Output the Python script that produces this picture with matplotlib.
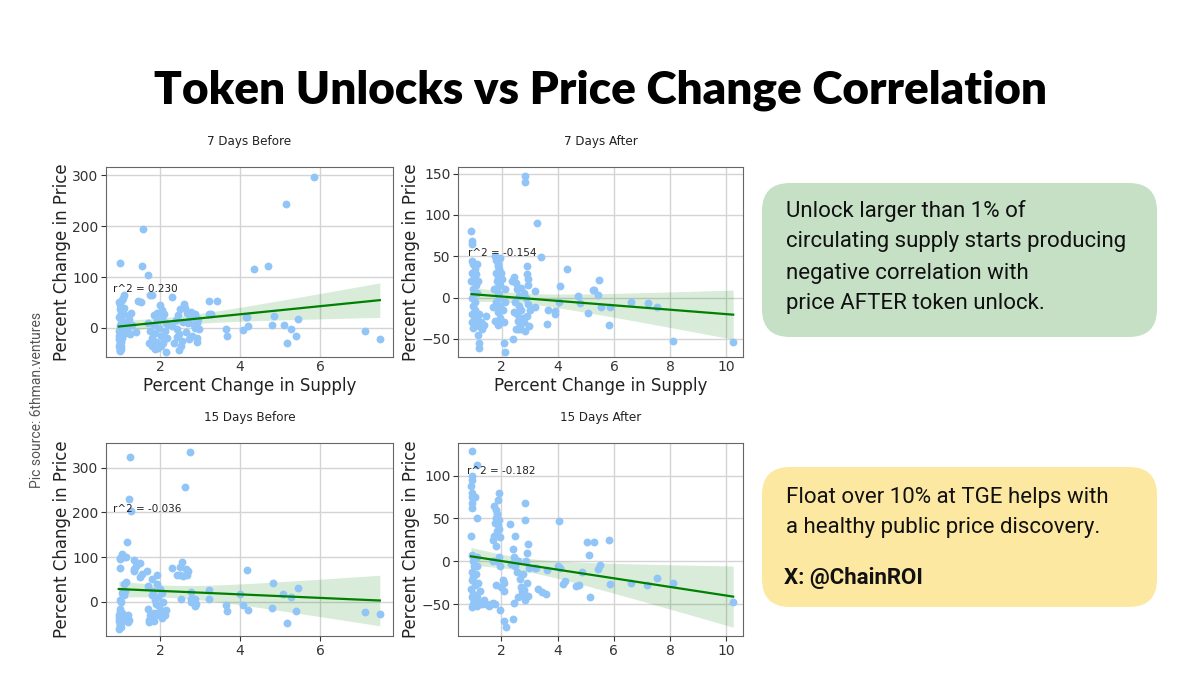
import numpy as np
import matplotlib
matplotlib.use('Agg')
import matplotlib.pyplot as plt
from matplotlib.patches import FancyBboxPatch

# ---- data ----
# 7 days before
b7_supply = [5.86, 5.14, 1.57, 0.99, 1.53, 1.69, 4.35, 4.71, 1.75, 1.80, 2.29, 1.08, 3.21, 3.41,
             7.14, 7.50, 5.46, 4.84, 5.09, 5.28, 5.41, 5.18, 4.79, 4.14, 4.17, 4.19, 4.07, 3.65,
             3.67, 2.93, 2.91, 2.14,
             0.97, 1.00, 1.03, 1.06, 0.98, 1.02, 0.97, 1.01, 1.04, 0.98, 1.00, 0.96, 1.02, 0.98,
             1.00, 0.97, 1.01, 0.99, 0.97, 1.00, 0.98, 1.03, 1.05, 1.10, 1.12, 1.08, 1.10, 1.15,
             1.18, 1.14, 1.26, 1.43, 1.51, 1.38, 1.22, 1.25, 1.30,
             0.99, 1.01, 0.98, 1.02, 1.00, 0.97, 1.03, 0.99,
             1.70, 1.75, 1.78, 1.80, 1.83, 1.85, 1.88, 1.90, 1.92, 1.95, 1.97, 2.00, 2.02, 2.05,
             2.08, 2.10, 2.12, 2.15, 2.18, 2.20, 1.72, 1.86, 2.03, 1.93, 2.05,
             2.59, 2.50, 2.67, 2.75, 2.87, 2.95, 2.92, 2.70, 2.57, 2.42, 2.48, 2.40, 2.88, 2.96,
             2.93, 2.55, 2.35, 2.65, 2.80, 2.45, 2.62, 2.72, 2.85, 2.30, 2.78, 2.43, 2.52, 2.46,
             3.22, 3.28]
b7_price = [297, 244, 195, 128, 122, 104, 116, 121, 65, 65, 61, 64, 52, 52,
            -5, -21, 17, 24, 6, -3, -16, -29, 5, 22, 22, 4, -4, -2,
            -16, 14, -27, -47,
            50, 45, 55, 58, 38, 30, 22, 15, 10, 5, 0, -5, -8, -12,
            -18, -22, -27, -32, -36, -40, -44, -3, 3, 8, -2, 40, 28, 12,
            2, -10, 30, 52, 50, -7, 18, -12, 5,
            -25, -35, -40, -42, -30, -15, -20, -45,
            10, -5, -20, -35, 5, 25, -10, -28, 15, -40, 0, 45, -15, 20,
            -30, 27, -5, 10, -20, 5, -30, -42, -36, 30, 35,
            47, 37, 30, 20, 27, 18, 10, 10, 11, -2, -12, 15, 0, -2,
            -20, -25, -30, -8, -15, 25, 40, -22, 5, 3, 32, -18, -35, -43,
            28, 28]

# 7 days after
a7_supply = [2.83, 2.83, 3.24, 3.39, 0.92, 0.93, 0.94, 4.33, 5.46, 4.06, 4.70, 4.80, 4.05, 3.90,
             3.88, 5.06, 5.25, 5.30, 5.44, 5.55, 5.87, 5.81, 6.60, 7.19, 7.54, 8.10, 10.24, 3.64,
             3.60, 3.19, 3.17, 2.90, 2.40, 2.10, 2.07, 1.18, 1.19, 1.15, 2.52, 2.58, 2.65,
             0.93, 0.98, 1.05, 0.95, 1.02, 0.92, 1.08, 0.96, 1.00, 0.94, 1.04, 0.97, 1.06, 0.93,
             1.01, 1.10, 0.95, 1.03, 0.98, 1.12, 1.15, 1.20, 1.25, 1.30, 1.35, 1.45, 1.18, 1.08,
             1.12, 1.15, 1.10,
             1.75, 1.80, 1.85, 1.90, 1.78, 1.88, 1.82, 1.95, 1.72, 1.85, 1.90, 1.80, 1.95, 1.70,
             1.88, 1.92, 1.85, 1.98, 2.05, 2.10, 2.08, 1.93, 1.98, 1.83, 1.77, 2.12, 2.00, 1.87,
             2.35, 2.45, 2.50, 2.55, 2.60, 2.48, 2.62, 2.70, 2.55, 2.75, 2.80, 2.65, 2.90, 2.95,
             2.85, 2.92, 2.88, 2.95, 2.78, 2.70, 2.42, 2.58, 3.00, 2.98, 2.82]
a7_price = [147, 140, 90, 49, 81, 68, 65, 34, 21, 14, 2, -7, -6, -16,
            -20, -19, 9, 9, 3, -11, -12, -33, -6, -7, -11, -53, -54, -15,
            -32, -11, 8, 38, -50, -66, -55, -55, -61, -45, -38, -38, -38,
            44, 40, 35, 30, 25, 20, 15, 10, 5, 0, -5, -10, -15, -20,
            -22, -25, -30, -33, -37, -28, -32, -35, -30, -38, -33, -22, -20, 28,
            40, 20, 5,
            50, 45, 40, 35, 30, 25, 20, 15, 10, 5, 0, -5, -10, -12,
            -18, -25, -33, -30, -15, -5, -30, 48, 30, 12, -28, 10, 22, 38,
            20, 25, 18, 10, 2, -5, -10, -15, -20, -25, -30, -35, -22, -8,
            0, 15, 28, 22, 5, 12, -18, -28, -15, -35, -40]

# 15 days before
b15_supply = [1.23, 2.75, 2.63, 1.21, 1.26, 1.16, 1.05, 1.00, 1.03, 1.08, 1.13, 0.98, 1.33, 1.48,
              1.40, 1.35, 1.33, 1.00, 1.55, 1.50, 1.66, 1.78, 1.92, 2.29, 2.54, 2.50, 2.65, 2.70,
              2.42, 2.50, 2.58, 2.66, 4.18, 4.83, 5.46, 5.08, 5.27, 4.00, 4.07, 4.19, 4.79, 5.18,
              5.41, 7.14, 7.50, 3.65, 3.66, 3.21, 3.21, 2.87, 2.90, 2.88, 2.77, 2.78, 2.76, 2.53,
              0.98, 1.00, 0.97, 1.02, 0.99, 0.96, 1.01, 0.98, 1.00, 0.97, 1.03, 1.05, 1.20, 1.22,
              1.18, 1.02, 0.98, 1.10, 1.12, 1.08, 1.05, 1.15,
              0.98, 1.00, 1.02, 0.97, 1.72, 1.78, 1.83, 1.90, 2.00, 2.05, 1.95, 2.12,
              1.70, 1.75, 1.72, 1.80, 1.85, 1.90, 1.95, 2.00, 2.05, 1.98, 2.10, 2.15, 1.88, 2.03,
              1.93, 2.07, 1.78, 1.68, 1.82]
b15_price = [323, 336, 257, 230, 203, 134, 108, 98, 103, 101, 100, 95, 94, 88,
             80, 73, 70, 75, 63, 55, 69, 52, 60, 75, 90, 77, 73, 70,
             60, 60, 58, 60, 71, 43, 31, 17, 12, 17, -7, -19, -13, -48,
             -21, -23, -27, -7, -20, 27, 7, 7, -5, -10, 22, 6, 0, 7,
             -15, -22, -28, -33, -38, -43, -48, -52, -56, -60, -40, -25, -30, -40,
             -45, 0, 5, 15, 25, 40, 20, 45,
             -45, -50, -55, -35, -45, -38, -42, -30, -20, -35, -25, -28,
             -15, -30, -40, -35, -25, -5, 10, 30, 20, -10, -20, -18, 5, -30,
             40, 0, 15, 35, 25]

# 15 days after
a15_supply = [0.94, 1.12, 0.95, 0.96, 0.93, 0.97, 0.94, 0.96, 0.95, 1.05, 1.12, 0.92, 1.97, 2.10,
              2.15, 2.40, 2.30, 2.50, 2.83, 2.83, 4.06, 5.05, 5.30, 5.82, 5.10, 5.50, 5.45, 5.88,
              6.60, 7.19, 7.54, 8.10, 10.24, 5.14, 4.65, 4.75, 4.87, 4.20, 4.25, 4.10, 4.03, 3.62,
              3.60, 3.30, 3.45, 3.20, 3.25,
              0.95, 0.98, 1.02, 0.94, 1.00, 0.97, 1.05, 0.93, 1.01, 0.96, 1.03, 0.99, 0.95, 1.08,
              1.12, 1.15, 1.10, 1.13, 1.18, 1.22, 1.30, 1.38, 1.45, 1.55, 1.62, 1.70, 1.78, 1.25,
              1.15,
              1.75, 1.80, 1.85, 1.90, 1.82, 1.78, 1.88, 1.92, 1.85, 1.75, 1.95, 1.70, 1.80, 1.90,
              1.85, 1.95, 2.05, 2.10, 2.00, 2.08, 1.80, 1.72, 1.93, 1.87,
              2.40, 2.45, 2.50, 2.55, 2.60, 2.65, 2.70, 2.75, 2.80, 2.85, 2.90, 2.95, 2.92, 2.88,
              2.78, 2.58, 2.45, 2.35, 2.98, 2.72, 2.82, 2.95]
a15_price = [129, 112, 100, 95, 88, 80, 75, 68, 62, 75, 50, 30, -57, -70,
             -77, -67, 43, 30, 68, 48, 47, 23, 23, 25, 7, -4, -9, -26,
             -25, -28, -19, -25, -47, -42, -29, -27, -12, -26, -23, -8, -5, -10,
             -38, -32, -36, -8, -8,
             8, 0, -5, -12, -18, -22, -28, -32, -38, -42, -46, -50, -53, -48,
             -52, -42, -15, -5, -25, -48, -50, -45, -50, -52, -50, -49, -50, -35,
             5,
             65, 60, 55, 80, 50, 45, 42, 38, 35, 30, 28, 25, 18, 5,
             0, -5, -22, -25, -30, -35, -28, 0, 48, 72,
             15, 5, -5, -12, 0, -20, -30, -35, -40, -45, -25, 20, 10, 0,
             -15, -42, -48, -3, -8, -38, -33, -40]

titles = ['7 Days Before', '7 Days After', '15 Days Before', '15 Days After']
r2_labels = ['r^2 = 0.230', 'r^2 = -0.154', 'r^2 = -0.036', 'r^2 = -0.182']
supply_sets = [b7_supply, a7_supply, b15_supply, a15_supply]
price_sets = [b7_price, a7_price, b15_price, a15_price]


def fit_band(x, y, grid):
    # linear fit and 95% band of the mean
    x = np.asarray(x, float)
    y = np.asarray(y, float)
    n = len(x)
    b, a = np.polyfit(x, y, 1)
    yhat = a + b * grid
    resid = y - (a + b * x)
    s = np.sqrt(np.sum(resid ** 2) / (n - 2))
    se = s * np.sqrt(1 / n + (grid - x.mean()) ** 2 / np.sum((x - x.mean()) ** 2))
    return yhat, yhat - 1.97 * se, yhat + 1.97 * se


fig = plt.figure(figsize=(12, 6.75), dpi=100)
W, H = 1200, 675

# axes boxes in pixels: left, top, right, bottom
boxes = [(106, 167, 393, 357), (458, 167, 743, 357),
         (106, 443, 393, 636), (458, 443, 743, 636)]
xlims = [(0.64, 7.83), (0.44, 10.59), (0.64, 7.83), (0.46, 10.59)]
ylims = [(-57, 316), (-72, 158), (-76, 355), (-87, 138)]
yticks = [[0, 100, 200, 300], [-50, 0, 50, 100, 150], [0, 100, 200, 300], [-50, 0, 50, 100]]
r2_pos = [(0.82, 77), (0.79, 54), (0.82, 208), (0.79, 105)]

point_color = '#92c5f7'

for i in range(4):
    l, t, r, b = boxes[i]
    ax = fig.add_axes([l / W, (H - b) / H, (r - l) / W, (b - t) / H])
    x = np.array(supply_sets[i])
    y = np.array(price_sets[i])
    ax.scatter(x, y, s=32, color=point_color, zorder=2, linewidths=0)
    grid = np.linspace(x.min(), x.max(), 100)
    yhat, lo, hi = fit_band(x, y, grid)
    ax.fill_between(grid, lo, hi, color='green', alpha=0.15, linewidth=0, zorder=1)
    ax.plot(grid, yhat, color='green', lw=1.6, zorder=3)
    ax.text(r2_pos[i][0], r2_pos[i][1], r2_labels[i], fontsize=7.5, va='center', ha='left',
            color='#222222', zorder=4)
    ax.set_xlim(xlims[i])
    ax.set_ylim(ylims[i])
    ax.set_yticks(yticks[i])
    ax.grid(True, color='#d4d4d4', lw=1.0, zorder=0)
    ax.set_axisbelow(True)
    for sp in ax.spines.values():
        sp.set_color('#666666')
    ax.tick_params(labelsize=10, colors='#333333', length=3.5, pad=2)
    ax.tick_params(axis='x', length=0 if i < 2 else 3.5)
    ax.set_title(titles[i], fontsize=9.5, color='#222222', pad=16,
                 fontstretch='condensed')
    ax.set_ylabel('Percent Change in Price', fontsize=12, color='#222222', labelpad=1)
    if i < 2:
        ax.set_xticks([2, 4, 6] if i == 0 else [2, 4, 6, 8, 10])
        ax.set_xlabel('Percent Change in Supply', fontsize=12, color='#222222', labelpad=2)
    else:
        ax.set_xticks([2, 4, 6] if i == 2 else [2, 4, 6, 8, 10])

# overlay in pixel units for the title and the boxes
ov = fig.add_axes([0, 0, 1, 1], zorder=10)
ov.set_xlim(0, W)
ov.set_ylim(H, 0)
ov.axis('off')
ov.patch.set_alpha(0)

ov.text(600, 90, 'Token Unlocks vs Price Change Correlation', fontsize=33,
        fontfamily='Lato', fontweight='heavy', ha='center', va='center', color='black')

ov.text(37, 400, 'Pic source: 6thman.ventures', rotation=90, fontsize=10,
        fontfamily='Roboto', color='#555555', ha='center', va='center')

green_box = FancyBboxPatch((762, 183), 395, 154, boxstyle='round,pad=0,rounding_size=28',
                           facecolor='#c5e0c5', edgecolor='none')
ov.add_patch(green_box)
green_lines = ['Unlock larger than 1% of', 'circulating supply starts producing',
               'negative correlation with', 'price AFTER token unlock.']
for k, line in enumerate(green_lines):
    ov.text(786, 211 + k * 31, line, fontsize=16, fontfamily='Roboto',
            color='#111111', ha='left', va='center')

yellow_box = FancyBboxPatch((762, 467), 395, 140, boxstyle='round,pad=0,rounding_size=28',
                            facecolor='#fde8a1', edgecolor='none')
ov.add_patch(yellow_box)
ov.text(786, 497, 'Float over 10% at TGE helps with', fontsize=16, fontfamily='Roboto',
        color='#111111', ha='left', va='center')
ov.text(786, 527, 'a healthy public price discovery.', fontsize=16, fontfamily='Roboto',
        color='#111111', ha='left', va='center')
ov.text(784, 578, 'X: @ChainROI', fontsize=16, fontfamily='Roboto', fontweight='bold',
        color='#111111', ha='left', va='center')

fig.savefig('out.png', dpi=100, facecolor='white')
